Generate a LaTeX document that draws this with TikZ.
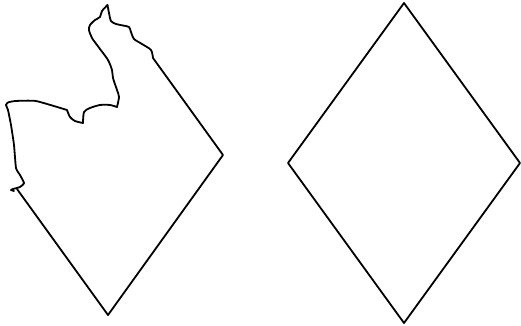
\documentclass[tikz,border=0pt]{standalone}
\usepackage{tikz}
\tikzset{outline/.style={black,line width=1.8pt,line join=round,line cap=round}}

\begin{document}
\begin{tikzpicture}[x=1pt,y=-1pt]
        \useasboundingbox (0,0) rectangle (521,325);
        % torn shape
        \draw[outline] (153,58) -- (223,155) -- (108,315) -- (17,189);
        \draw[outline] plot[smooth,tension=0.45] coordinates {(153,58) (151,50) (142,44) (134,39) (131,32) (129,27) (123,25.5) (116,24) (111,21) (109,13) (107.5,5)};
        \draw[outline] plot[smooth,tension=0.45] coordinates {(107.5,5) (102,11) (100,17) (95,20) (90,25) (89,30) (92,38) (100,49) (108,60) (112,70) (113,78) (117,90) (119,97) (117,107)};
        \draw[outline] plot[smooth,tension=0.45] coordinates {(117,107) (110,105) (100,105) (90,108) (84,112) (83,123)};
        \draw[outline] plot[smooth,tension=0.45] coordinates {(83,123) (75,121) (70,117) (67,110)};
        \draw[outline] plot[smooth,tension=0.3] coordinates {(67,110) (36,101) (15,101) (8,102.5) (6,105) (8,110) (11,125) (14,145) (16,168) (20,175) (24,183) (20,187) (13,189) (11,190) (14,191)};
        % whole shape
        \draw[outline] (404,3) -- (520,163) -- (404,323) -- (288,163) -- cycle;
      \end{tikzpicture}
\end{document}
